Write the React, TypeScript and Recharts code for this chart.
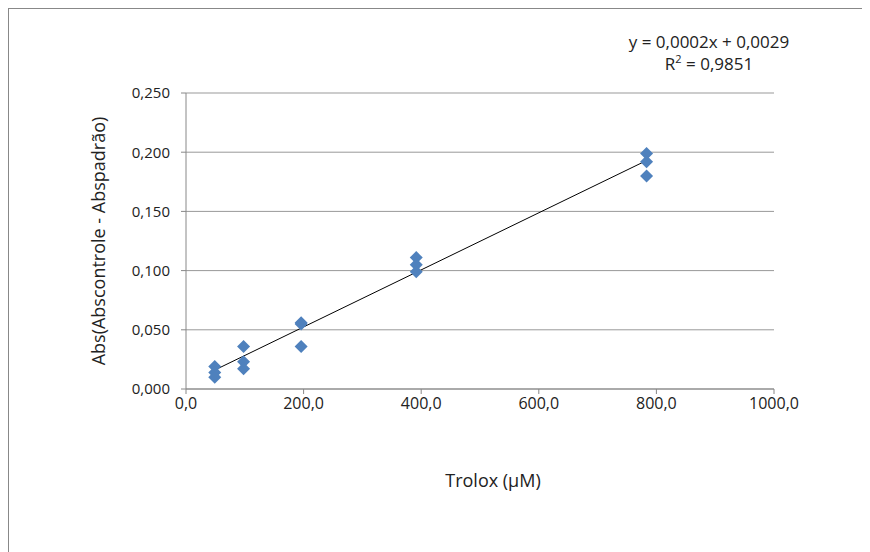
import React from 'react';
import { ScatterChart, Scatter, XAxis, YAxis, CartesianGrid } from 'recharts';

const concentrations = [48.9, 48.9, 48.9, 97.9, 97.9, 97.9, 195.8, 195.8, 195.8, 391.6, 391.6, 391.6, 783.3, 783.3, 783.3];
const absValues = [0.019, 0.014, 0.010, 0.036, 0.023, 0.017, 0.056, 0.055, 0.036, 0.111, 0.105, 0.099, 0.199, 0.192, 0.180];
const trendX = [48.9, 783.3];
const trendY = [0.016, 0.193];
const xTicks = [0, 200, 400, 600, 800, 1000];
const yTicks = [0, 0.05, 0.1, 0.15, 0.2, 0.25];
const equationText = 'y = 0,0002x + 0,0029';
const r2Value = '0,9851';

const points = concentrations.map((x, i) => ({ x, y: absValues[i] }));
const trend = trendX.map((x, i) => ({ x, y: trendY[i] }));

const FONT = '"Open Sans", sans-serif';

const Diamond = (props: any) => {
  const { cx, cy } = props;
  if (cx == null || cy == null) return <g />;
  const w = 6.5, h = 6.5;
  return <path d={`M${cx},${cy - h}L${cx + w},${cy}L${cx},${cy + h}L${cx - w},${cy}Z`} fill="#4F81BD" />;
};

const NoShape = () => <g />;

const fmtX = (v: number) => v.toFixed(1).replace('.', ',');
const fmtY = (v: number) => v.toFixed(3).replace('.', ',');

export default function App() {
  return (
    <div style={{ position: 'relative', width: 853, height: 543, borderLeft: '1px solid #888', borderTop: '1px solid #888', fontFamily: FONT }}>
      <ScatterChart width={853} height={543} margin={{ top: 84, right: 88, bottom: 133, left: 97 }}>
        <CartesianGrid vertical={false} stroke="#999" strokeWidth={1} />
        <XAxis
          type="number"
          dataKey="x"
          domain={[0, 1000]}
          ticks={xTicks}
          tickFormatter={fmtX}
          height={30}
          tickSize={5}
          tickMargin={4}
          stroke="#888"
          tick={{ fill: '#222', fontSize: 16, fontFamily: FONT }}
          label={{
            content: (p: any) => {
              const vb = p.viewBox;
              return (
                <text x={vb.x + vb.width / 2 + 13} y={471} textAnchor="middle" dominantBaseline="central" fill="#222" fontSize={18} fontFamily={FONT}>
                  Trolox (μM)
                </text>
              );
            },
          }}
        />
        <YAxis
          type="number"
          dataKey="y"
          domain={[0, 0.25]}
          ticks={yTicks}
          tickFormatter={fmtY}
          width={80}
          tickSize={5}
          tickMargin={11}
          stroke="#888"
          tick={{ fill: '#222', fontSize: 15, fontFamily: FONT }}
          label={{
            content: (p: any) => {
              const vb = p.viewBox;
              const cy = vb.y + vb.height / 2;
              return (
                <text x={89} y={cy} transform={`rotate(-90 89 ${cy})`} textAnchor="middle" dominantBaseline="central" fill="#222" fontSize={18} fontFamily={FONT}>
                  Abs(Abscontrole - Abspadrão)
                </text>
              );
            },
          }}
        />
        <Scatter data={trend} line={{ stroke: '#000', strokeWidth: 1 }} shape={NoShape} isAnimationActive={false} />
        <Scatter data={points} shape={Diamond} isAnimationActive={false} />
      </ScatterChart>
      <div style={{ position: 'absolute', left: 600, top: 22, width: 200, textAlign: 'center', fontSize: 17, lineHeight: '22px', color: '#222', fontFamily: FONT }}>
        <div>{equationText}</div>
        <div>R<sup style={{ fontSize: 11, verticalAlign: 'super', lineHeight: 0 }}>2</sup> = {r2Value}</div>
      </div>
    </div>
  );
}
